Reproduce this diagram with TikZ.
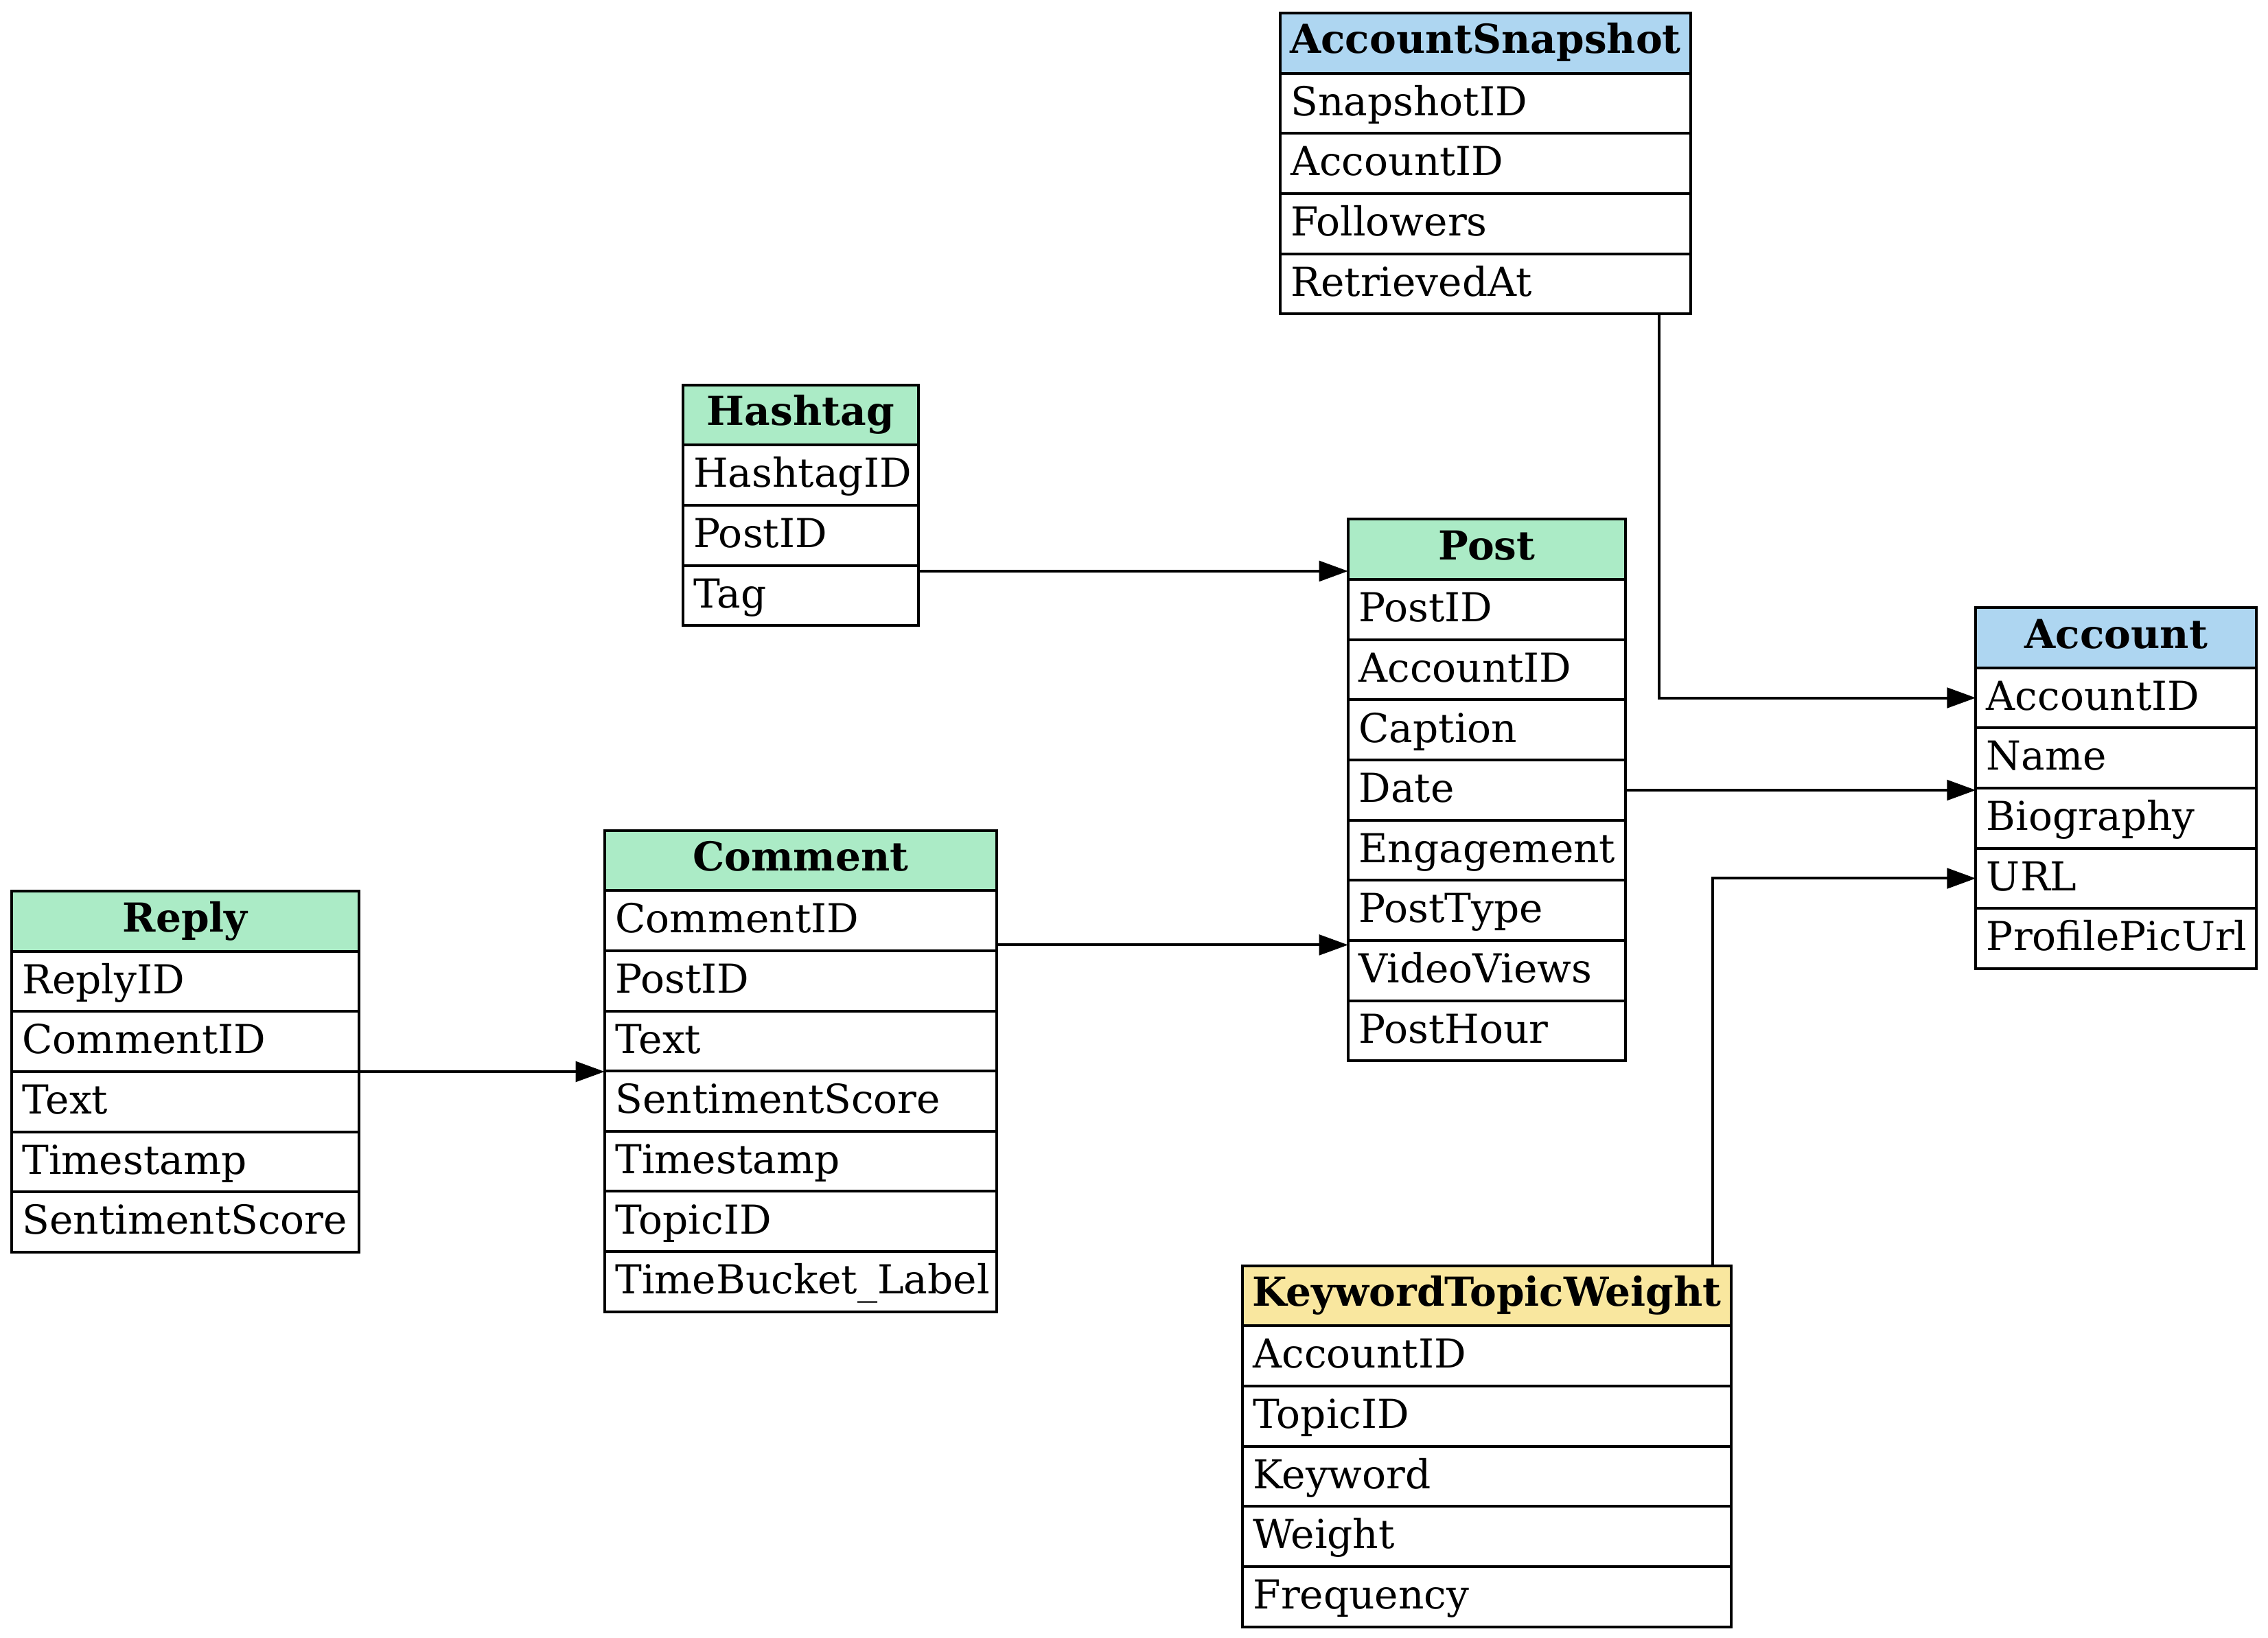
\documentclass[tikz,border=0pt]{standalone}
\usepackage{fontspec}
\setmainfont{DejaVu Serif}
\usetikzlibrary{arrows.meta}
\definecolor{hblue}{HTML}{AED6F1}
\definecolor{hgreen}{HTML}{ABEBC6}
\definecolor{hyellow}{HTML}{F9E79F}
\tikzset{
  cellbox/.style={draw=black, line width=0.95pt, rectangle, inner sep=0pt, outer sep=0pt, minimum height=20.8pt},
  hdrtext/.style={inner sep=0pt, font=\fontsize{13.8pt}{16pt}\selectfont\bfseries},
  rowtext/.style={inner sep=0pt, font=\fontsize{13.8pt}{16pt}\selectfont},
  conn/.style={draw=black, line width=0.95pt, -{Triangle[length=10pt,width=7pt]}}
}
% #1 name, #2 left x, #3 right x, #4 top y, #5 header colour, #6 title, #7 rows
\newcommand\ertable[7]{%
  \pgfmathsetmacro\erw{(#3-#2)*0.5}%
  \node[cellbox, fill=#5, minimum width=\erw pt, anchor=north west] (#1-h) at (#2,#4) {};
  \node[hdrtext, anchor=base] (#1-ht) at ([yshift=-14pt]#1-h.north) {#6};
  \foreach \r [count=\i] in {#7} {
    \node[cellbox, fill=white, minimum width=\erw pt, anchor=north west] (#1-r\i) at (#2,{#4+\i*41.6}) {};
    \node[rowtext, anchor=base west] (#1-t\i) at ([xshift=3.5pt,yshift=-14.6pt]#1-r\i.north west) {\r};
  }
}
\begin{document}
\begin{tikzpicture}[x=0.5pt,y=-0.5pt]
\path[use as bounding box, fill=white] (0,0) rectangle (1568,1132);

\ertable{snap}{885}{1169}{9}{hblue}{AccountSnapshot}{SnapshotID,AccountID,Followers,RetrievedAt}
\ertable{hash}{472}{635}{266}{hgreen}{Hashtag}{HashtagID,PostID,Tag}
\ertable{post}{932}{1124}{359}{hgreen}{Post}{PostID,AccountID,Caption,Date,Engagement,PostType,VideoViews,PostHour}
\ertable{acc}{1366}{1560}{420}{hblue}{Account}{AccountID,Name,Biography,URL,ProfilePicUrl}
\ertable{com}{418}{689}{574}{hgreen}{Comment}{CommentID,PostID,Text,SentimentScore,Timestamp,TopicID,TimeBucket\_Label}
\ertable{rep}{8}{248}{616}{hgreen}{Reply}{ReplyID,CommentID,Text,Timestamp,SentimentScore}
\ertable{ktw}{859}{1197}{875}{hyellow}{KeywordTopicWeight}{AccountID,TopicID,Keyword,Weight,Frequency}

% connectors
\coordinate (e1s) at (snap-r4.south west -| 1147,0);
\draw[conn] (e1s) |- (acc-r1.west);

\coordinate (e2s) at ([yshift=-2pt]hash-r3.north east);
\draw[conn] (e2s) -- (e2s -| post-h.west);

\draw[conn] (post-r4.east) -- (post-r4.east -| acc-r3.west);

\coordinate (e4s) at (ktw-h.north west -| 1184,0);
\draw[conn] (e4s) |- (acc-r4.west);

\coordinate (e5s) at ([yshift=2pt]com-r1.south east);
\draw[conn] (e5s) -- (e5s -| post-r7.west);

\draw[conn] (rep-r2.south east) -- (rep-r2.south east -| com-r3.south west);
\end{tikzpicture}
\end{document}
